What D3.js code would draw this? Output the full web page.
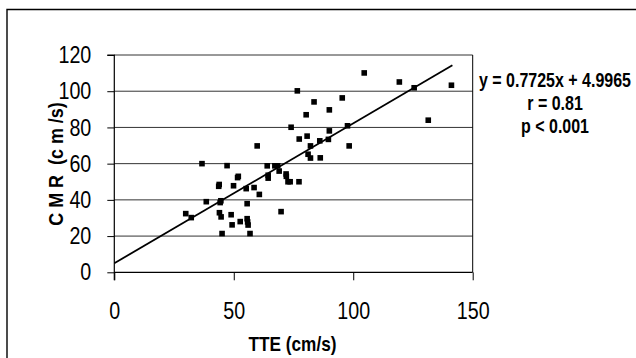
<!DOCTYPE html>
<html>
<head>
<meta charset="utf-8">
<script src="https://cdn.jsdelivr.net/npm/d3@7"></script>
<style>
html,body{margin:0;padding:0;background:#fff;}
svg{display:block;}
text{font-family:"Liberation Sans",Arial,sans-serif;}
</style>
</head>
<body>
<svg id="chart" width="636" height="358"></svg>
<script>
// ---- data ----
const tte = [29.9, 32.2, 36.7, 38.5, 43.7, 43.9, 44.3, 44.6, 44.0, 44.7, 45.1, 47.2, 48.9, 49.3, 49.9, 51.6, 51.9, 52.7, 55.2, 55.6, 55.6, 55.8, 56.0, 56.8, 58.5, 59.8, 60.7, 64.0, 64.4, 64.4, 67.2, 68.4, 69.0, 69.8, 71.9, 72.0, 72.7, 73.6, 74.0, 76.6, 77.3, 77.4, 80.3, 80.7, 81.1, 82.1, 82.1, 83.6, 86.0, 86.2, 89.6, 90.0, 90.0, 95.4, 97.6, 98.3, 104.6, 119.3, 125.5, 131.4, 141.1];
const cmr = [32.4, 30.2, 60.0, 39.0, 47.5, 48.5, 38.5, 39.5, 32.9, 30.6, 21.4, 58.9, 31.8, 26.2, 47.8, 52.3, 53.0, 28.0, 46.2, 37.9, 29.6, 27.8, 26.1, 21.4, 46.8, 69.8, 43.0, 58.8, 53.6, 52.0, 58.8, 58.8, 55.9, 33.5, 54.3, 53.0, 50.0, 50.0, 80.1, 100.2, 50.0, 73.6, 87.0, 75.2, 65.2, 69.8, 63.1, 94.1, 72.6, 63.2, 73.4, 89.7, 78.1, 96.3, 80.9, 69.8, 110.1, 105.1, 101.9, 84.0, 103.3];
const xTicks = [0, 50, 100, 150];
const yTicks = [0, 20, 40, 60, 80, 100, 120];
const slope = 0.7725, intercept = 4.9965;
const fitRange = [0, 141.5];
const annotation = ["y = 0.7725x + 4.9965", "r = 0.81", "p < 0.001"];
const xTitle = "TTE (cm/s)";
const yTitle = "C M R  (c m /s)";

// ---- layout ----
const svg = d3.select("#chart");
const L = 114.3, R = 472.7, T = 55, B = 272.3;
const x = d3.scaleLinear().domain([0, 150]).range([L, R]);
const y = d3.scaleLinear().domain([0, 120]).range([B, T]);
const K = 0.82; // horizontal squeeze to emulate a narrow face

// outer frame (top and left edges visible)
svg.append("path").attr("d", "M7,358 V9.5 H636").attr("fill", "none").attr("stroke", "#000").attr("stroke-width", 1.4);

// grid lines
svg.append("g").selectAll("line").data(yTicks.filter(d => d > 0)).join("line")
  .attr("x1", L).attr("x2", R).attr("y1", d => y(d)).attr("y2", d => y(d))
  .attr("stroke", "#333").attr("stroke-width", 1);
// right frame
svg.append("line").attr("x1", R).attr("x2", R).attr("y1", T).attr("y2", B).attr("stroke", "#000").attr("stroke-width", 1);

// axes
const yAxis = d3.axisLeft(y).tickValues(yTicks).tickSize(7).tickPadding(16).tickFormat(d3.format("d"));
const gy = svg.append("g").attr("transform", `translate(${L},0)`).call(yAxis);
const xAxis = d3.axisBottom(x).tickValues(xTicks).tickSize(8).tickPadding(22).tickFormat(d3.format("d"));
const gx = svg.append("g").attr("transform", `translate(0,${B})`).call(xAxis);
[gx, gy].forEach(g => {
  g.select(".domain").attr("stroke", "#000").attr("stroke-width", 1.2);
  g.selectAll(".tick line").attr("stroke", "#000").attr("stroke-width", 1);
  g.selectAll(".tick text").attr("font-size", 24).attr("fill", "#000")
    .style("font-family", '"Liberation Sans",Arial,sans-serif')
    .each(function () {
      const t = d3.select(this);
      const x0 = +(t.attr("x") || 0);
      t.attr("x", x0 / K).attr("transform", `scale(${K},1)`);
    });
});
gy.select(".domain").attr("d", `M-7,${T}H0V${B + 8}`);
gx.select(".domain").attr("d", `M${L},0H${R}`);

// regression line
svg.append("line")
  .attr("x1", x(fitRange[0])).attr("y1", y(slope * fitRange[0] + intercept))
  .attr("x2", x(fitRange[1])).attr("y2", y(slope * fitRange[1] + intercept))
  .attr("stroke", "#000").attr("stroke-width", 1.8);

// points
const s = 5.6;
svg.append("g").selectAll("rect").data(tte.map((v, i) => [v, cmr[i]])).join("rect")
  .attr("x", d => x(d[0]) - s / 2).attr("y", d => y(d[1]) - s / 2)
  .attr("width", s).attr("height", s).attr("fill", "#000");

// titles
svg.append("text").attr("transform", `translate(${(L + R) / 2 - 1},351) scale(${K},1)`).attr("text-anchor", "middle")
  .attr("font-size", 21).attr("font-weight", "bold").text(xTitle);
svg.append("text").attr("transform", `translate(63,164) rotate(-90) scale(0.92,1)`).attr("text-anchor", "middle")
  .attr("font-size", 19.5).attr("font-weight", "bold").style("white-space", "pre").text(yTitle);

// annotation
svg.append("g").selectAll("text").data(annotation).join("text")
  .attr("transform", (d, i) => `translate(555,${87 + i * 23}) scale(${K},1)`).attr("text-anchor", "middle")
  .attr("font-size", 19.5).attr("font-weight", "bold").text(d => d);
</script>
</body>
</html>
